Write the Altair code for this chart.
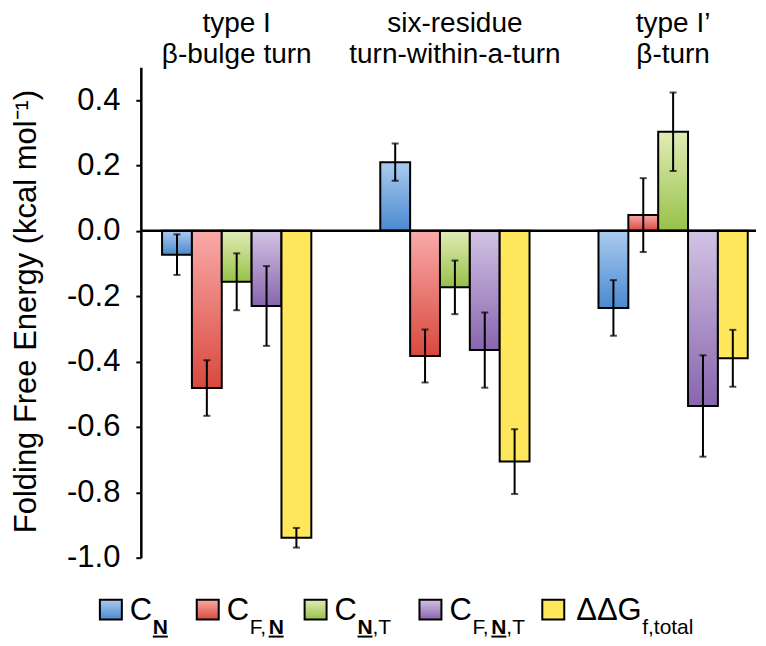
import altair as alt
import pandas as pd

# ---- data ----
groups = ["type I\nβ-bulge turn", "six-residue\nturn-within-a-turn", "type I’\nβ-turn"]
series = ["CN", "CFN", "CNT", "CFNT", "ddG"]

CN = [-0.073, 0.210, -0.236]
CFN = [-0.481, -0.383, 0.048]
CNT = [-0.156, -0.173, 0.303]
CFNT = [-0.230, -0.365, -0.536]
ddG = [-0.939, -0.706, -0.390]

CN_err = [0.062, 0.057, 0.085]
CFN_err = [0.085, 0.081, 0.113]
CNT_err = [0.087, 0.082, 0.120]
CFNT_err = [0.122, 0.115, 0.155]
ddG_err = [0.030, 0.099, 0.087]

y_ticks = [-1.0, -0.8, -0.6, -0.4, -0.2, 0.0, 0.2, 0.4]

vals = {"CN": CN, "CFN": CFN, "CNT": CNT, "CFNT": CFNT, "ddG": ddG}
errs = {"CN": CN_err, "CFN": CFN_err, "CNT": CNT_err, "CFNT": CFNT_err, "ddG": ddG_err}

rows = []
for s in series:
    for g, v, e in zip(groups, vals[s], errs[s]):
        rows.append({"group": g, "series": s, "value": v, "lo": v - e, "hi": v + e})
df = pd.DataFrame(rows)

# ---- styles ----
colors = {
    "CN": ("#abcbef", "#4a89d0"),
    "CFN": ("#f9aaa8", "#d8493f"),
    "CNT": ("#e1ecb6", "#97c148"),
    "CFNT": ("#d2c3e4", "#8865ae"),
    "ddG": ("#ffe75c", "#ffe75c"),
}


def grad(s):
    top, bot = colors[s]
    return alt.Gradient(
        gradient="linear",
        stops=[alt.GradientStop(offset=0, color=top), alt.GradientStop(offset=1, color=bot)],
        x1=0, x2=0, y1=0, y2=1,
    )


FONT = "Liberation Sans"

x_enc = alt.X(
    "group:N",
    scale=alt.Scale(domain=groups, paddingInner=0.316, paddingOuter=0.0676, align=0.72),
    axis=None,
)
xo_enc = alt.XOffset("series:N", scale=alt.Scale(domain=series, paddingInner=0, paddingOuter=0))
y_scale = alt.Scale(domain=[-1.0, 0.5], nice=False, zero=False)
y_axis = alt.Axis(
    values=y_ticks,
    labelExpr="replace(format(datum.value, '.1f'), '\u2212', '-')",
    grid=False,
    title="Folding Free Energy (kcal mol⁻¹)",
    titleX=-105,
    titleY=244,
    titleAngle=270,
    titleBaseline="alphabetic",
    titleAlign="center",
)

base = alt.Chart(df)
layers = []

for i, s in enumerate(series):
    enc = dict(x=x_enc, xOffset=xo_enc)
    if i == 0:
        enc["y"] = alt.Y("value:Q", scale=y_scale, axis=y_axis)
    else:
        enc["y"] = alt.Y("value:Q")
    layers.append(
        base.transform_filter(alt.datum.series == s)
        .mark_bar(fill=grad(s), stroke="black", strokeWidth=2)
        .encode(**enc)
    )

# zero line
layers.append(
    alt.Chart(alt.Data(values=[{}])).mark_rule(color="black", strokeWidth=2.5).encode(y=alt.datum(0))
)

# error bars
layers.append(
    base.mark_rule(color="black", strokeWidth=2).encode(x=x_enc, xOffset=xo_enc, y="lo:Q", y2="hi:Q")
)
for f in ["lo", "hi"]:
    layers.append(
        base.mark_tick(color="black", thickness=2, size=7).encode(x=x_enc, xOffset=xo_enc, y=f"{f}:Q")
    )

# group titles
gdf = pd.DataFrame({"group": groups})
layers.append(
    alt.Chart(gdf)
    .mark_text(fontSize=28, font=FONT, lineBreak="\n", lineHeight=31, baseline="alphabetic", color="black")
    .encode(x=alt.X("group:N"), y=alt.value(-35), text="group:N")
)

# ---- custom legend ----
one = alt.Data(values=[{}])


def txt(t, x, y, size, bold=False):
    return alt.Chart(one).mark_text(
        text=t, fontSize=size, font=FONT, fontWeight="bold" if bold else "normal",
        align="left", baseline="alphabetic", color="black",
    ).encode(x=alt.value(x), y=alt.value(y))


def square(s, x):
    return alt.Chart(one).mark_rect(fill=grad(s), stroke="black", strokeWidth=2).encode(
        x=alt.value(x), x2=alt.value(x + 22), y=alt.value(533), y2=alt.value(553)
    )


def uline(x, w):
    return alt.Chart(one).mark_rule(color="black", strokeWidth=2).encode(
        x=alt.value(x), x2=alt.value(x + w), y=alt.value(570)
    )


CB, SB, CS, SS = 553.5, 567, 31, 21
layers += [
    square("CN", -41), txt("C", -11, CB, CS), txt("N", 12, SB, SS, True), uline(12, 15),
    square("CFN", 56), txt("C", 86, CB, CS), txt("F,", 109, SB, SS), txt("N", 128, SB, SS, True), uline(128, 15),
    square("CNT", 164), txt("C", 194, CB, CS), txt("N", 217, SB, SS, True), uline(217, 15), txt(",T", 232, SB, SS),
    square("CFNT", 279), txt("C", 309, CB, CS), txt("F,", 332, SB, SS), txt("N", 351, SB, SS, True), uline(351, 15),
    txt(",T", 366, SB, SS),
    square("ddG", 402), txt("ΔΔG", 436, CB, CS), txt("f,total", 502, SB, SS),
]

chart = (
    alt.layer(*layers)
    .properties(
        width=616,
        height=491,
        padding={"left": 133, "top": 59, "right": 2, "bottom": 86},
        autosize=alt.AutoSizeParams(type="none"),
    )
    .configure_view(stroke=None)
    .configure_axis(
        domainColor="black",
        domainWidth=2.5,
        tickColor="black",
        tickWidth=2,
        tickSize=5,
        labelFont=FONT,
        labelFontSize=31,
        labelColor="black",
        labelPadding=16,
        titleFont=FONT,
        titleFontSize=31,
        titleFontWeight="normal",
        titleColor="black",
    )
)

chart.save("out.html", embed_options={"renderer": "svg", "actions": False})
